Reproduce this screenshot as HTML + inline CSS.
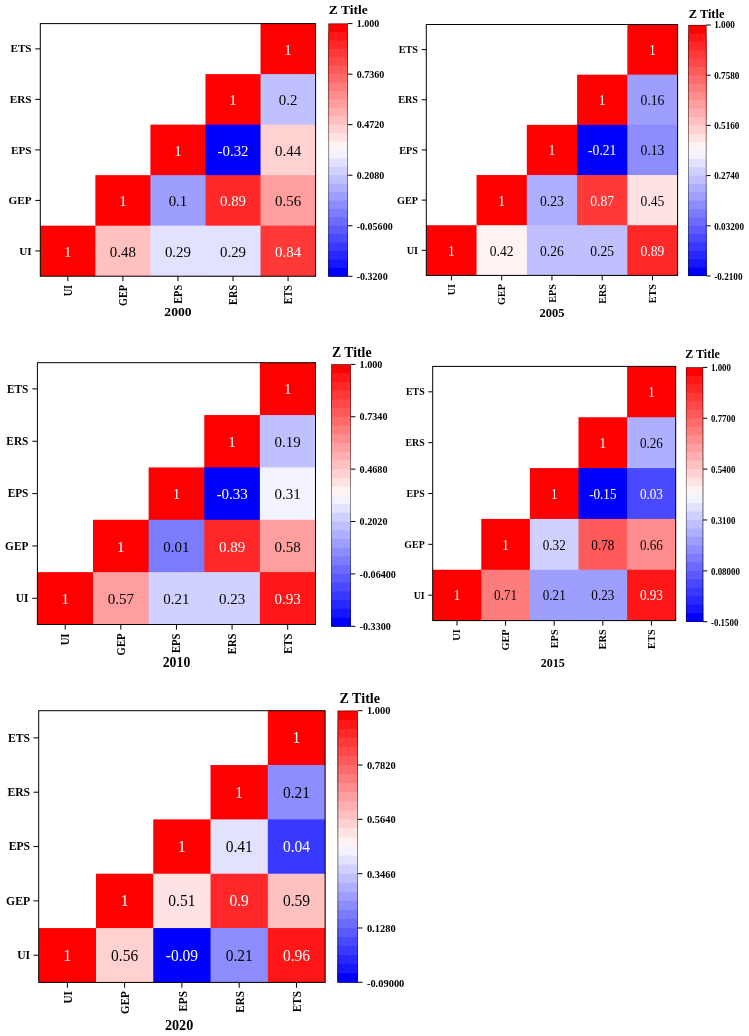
<!DOCTYPE html>
<html lang="en"><head><meta charset="utf-8"><title>Correlation heatmaps 2000-2020</title>
<style>
html,body{margin:0;padding:0;background:#fff;}
body{width:749px;height:1036px;overflow:hidden;}
svg{display:block;font-family:'Liberation Serif', 'DejaVu Serif', serif;}
</style></head><body>
<svg width="749" height="1036" viewBox="0 0 749 1036">
<rect width="749" height="1036" fill="#fff"/>
<g>
<rect x="260.54" y="23.60" width="55.06" height="252.60" fill="#ff0000"/>
<rect x="205.48" y="74.12" width="56.06" height="202.08" fill="#ff0000"/>
<rect x="260.54" y="74.12" width="55.06" height="202.08" fill="#c0c0ff"/>
<rect x="150.42" y="124.64" width="56.06" height="151.56" fill="#ff0000"/>
<rect x="205.48" y="124.64" width="56.06" height="151.56" fill="#0000ff"/>
<rect x="260.54" y="124.64" width="55.06" height="151.56" fill="#ffd1d1"/>
<rect x="95.36" y="175.16" width="56.06" height="101.04" fill="#ff0000"/>
<rect x="150.42" y="175.16" width="56.06" height="101.04" fill="#9e9eff"/>
<rect x="205.48" y="175.16" width="56.06" height="101.04" fill="#ff2727"/>
<rect x="260.54" y="175.16" width="55.06" height="101.04" fill="#ff9e9e"/>
<rect x="40.30" y="225.68" width="56.06" height="50.52" fill="#ff0000"/>
<rect x="95.36" y="225.68" width="56.06" height="50.52" fill="#ffc0c0"/>
<rect x="150.42" y="225.68" width="56.06" height="50.52" fill="#e2e2ff"/>
<rect x="205.48" y="225.68" width="56.06" height="50.52" fill="#e2e2ff"/>
<rect x="260.54" y="225.68" width="55.06" height="50.52" fill="#ff3838"/>
<text transform="translate(288.07,54.55) scale(1.0200,1.0064)" font-size="14.60" text-anchor="middle" fill="#fff">1</text>
<text transform="translate(233.01,105.07) scale(1.0200,1.0064)" font-size="14.60" text-anchor="middle" fill="#fff">1</text>
<text transform="translate(288.07,105.07) scale(1.0200,1.0064)" font-size="14.60" text-anchor="middle" fill="#000">0.2</text>
<text transform="translate(177.95,155.59) scale(1.0200,1.0064)" font-size="14.60" text-anchor="middle" fill="#fff">1</text>
<text transform="translate(233.01,155.59) scale(1.0200,1.0064)" font-size="14.60" text-anchor="middle" fill="#fff">-0.32</text>
<text transform="translate(288.07,155.59) scale(1.0200,1.0064)" font-size="14.60" text-anchor="middle" fill="#000">0.44</text>
<text transform="translate(122.89,206.11) scale(1.0200,1.0064)" font-size="14.60" text-anchor="middle" fill="#fff">1</text>
<text transform="translate(177.95,206.11) scale(1.0200,1.0064)" font-size="14.60" text-anchor="middle" fill="#000">0.1</text>
<text transform="translate(233.01,206.11) scale(1.0200,1.0064)" font-size="14.60" text-anchor="middle" fill="#fff">0.89</text>
<text transform="translate(288.07,206.11) scale(1.0200,1.0064)" font-size="14.60" text-anchor="middle" fill="#000">0.56</text>
<text transform="translate(67.83,256.63) scale(1.0200,1.0064)" font-size="14.60" text-anchor="middle" fill="#fff">1</text>
<text transform="translate(122.89,256.63) scale(1.0200,1.0064)" font-size="14.60" text-anchor="middle" fill="#000">0.48</text>
<text transform="translate(177.95,256.63) scale(1.0200,1.0064)" font-size="14.60" text-anchor="middle" fill="#000">0.29</text>
<text transform="translate(233.01,256.63) scale(1.0200,1.0064)" font-size="14.60" text-anchor="middle" fill="#000">0.29</text>
<text transform="translate(288.07,256.63) scale(1.0200,1.0064)" font-size="14.60" text-anchor="middle" fill="#fff">0.84</text>
<rect x="40.30" y="23.60" width="275.30" height="252.60" fill="none" stroke="#000" stroke-width="1.00"/>
<line x1="35.25" y1="48.86" x2="40.30" y2="48.86" stroke="#000" stroke-width="1.00"/>
<text transform="translate(31.60,52.49) scale(1.0200,1.0064)" font-size="11.00" font-weight="bold" text-anchor="end" fill="#000">ETS</text>
<line x1="35.25" y1="99.38" x2="40.30" y2="99.38" stroke="#000" stroke-width="1.00"/>
<text transform="translate(31.60,103.01) scale(1.0200,1.0064)" font-size="11.00" font-weight="bold" text-anchor="end" fill="#000">ERS</text>
<line x1="35.25" y1="149.90" x2="40.30" y2="149.90" stroke="#000" stroke-width="1.00"/>
<text transform="translate(31.60,153.53) scale(1.0200,1.0064)" font-size="11.00" font-weight="bold" text-anchor="end" fill="#000">EPS</text>
<line x1="35.25" y1="200.42" x2="40.30" y2="200.42" stroke="#000" stroke-width="1.00"/>
<text transform="translate(31.60,204.05) scale(1.0200,1.0064)" font-size="11.00" font-weight="bold" text-anchor="end" fill="#000">GEP</text>
<line x1="35.25" y1="250.94" x2="40.30" y2="250.94" stroke="#000" stroke-width="1.00"/>
<text transform="translate(31.60,254.57) scale(1.0200,1.0064)" font-size="11.00" font-weight="bold" text-anchor="end" fill="#000">UI</text>
<line x1="67.83" y1="276.20" x2="67.83" y2="281.20" stroke="#000" stroke-width="1.00"/>
<text transform="translate(71.78,284.90) scale(1.0968,1.0064) rotate(-90) scale(0.9300,1)" font-size="11.00" font-weight="bold" text-anchor="end" fill="#000">UI</text>
<line x1="122.89" y1="276.20" x2="122.89" y2="281.20" stroke="#000" stroke-width="1.00"/>
<text transform="translate(126.84,284.90) scale(1.0968,1.0064) rotate(-90) scale(0.9300,1)" font-size="11.00" font-weight="bold" text-anchor="end" fill="#000">GEP</text>
<line x1="177.95" y1="276.20" x2="177.95" y2="281.20" stroke="#000" stroke-width="1.00"/>
<text transform="translate(181.90,284.90) scale(1.0968,1.0064) rotate(-90) scale(0.9300,1)" font-size="11.00" font-weight="bold" text-anchor="end" fill="#000">EPS</text>
<line x1="233.01" y1="276.20" x2="233.01" y2="281.20" stroke="#000" stroke-width="1.00"/>
<text transform="translate(236.96,284.90) scale(1.0968,1.0064) rotate(-90) scale(0.9300,1)" font-size="11.00" font-weight="bold" text-anchor="end" fill="#000">ERS</text>
<line x1="288.07" y1="276.20" x2="288.07" y2="281.20" stroke="#000" stroke-width="1.00"/>
<text transform="translate(292.02,284.90) scale(1.0968,1.0064) rotate(-90) scale(0.9300,1)" font-size="11.00" font-weight="bold" text-anchor="end" fill="#000">ETS</text>
<text transform="translate(178.00,315.80) scale(1.0507,1.0064)" font-size="13.00" font-weight="bold" text-anchor="middle" fill="#000">2000</text>
<rect x="328.50" y="23.60" width="19.20" height="252.70" fill="#ff0000"/>
<rect x="328.50" y="32.02" width="19.20" height="244.28" fill="#ff1616"/>
<rect x="328.50" y="40.45" width="19.20" height="235.85" fill="#ff2727"/>
<rect x="328.50" y="48.87" width="19.20" height="227.43" fill="#ff3838"/>
<rect x="328.50" y="57.29" width="19.20" height="219.01" fill="#ff4949"/>
<rect x="328.50" y="65.72" width="19.20" height="210.58" fill="#ff5a5a"/>
<rect x="328.50" y="74.14" width="19.20" height="202.16" fill="#ff6b6b"/>
<rect x="328.50" y="82.56" width="19.20" height="193.74" fill="#ff7c7c"/>
<rect x="328.50" y="90.99" width="19.20" height="185.31" fill="#ff8d8d"/>
<rect x="328.50" y="99.41" width="19.20" height="176.89" fill="#ff9e9e"/>
<rect x="328.50" y="107.83" width="19.20" height="168.47" fill="#ffafaf"/>
<rect x="328.50" y="116.26" width="19.20" height="160.04" fill="#ffc0c0"/>
<rect x="328.50" y="124.68" width="19.20" height="151.62" fill="#ffd1d1"/>
<rect x="328.50" y="133.10" width="19.20" height="143.20" fill="#ffe2e2"/>
<rect x="328.50" y="141.53" width="19.20" height="134.77" fill="#fff3f3"/>
<rect x="328.50" y="149.95" width="19.20" height="126.35" fill="#f3f3ff"/>
<rect x="328.50" y="158.37" width="19.20" height="117.93" fill="#e2e2ff"/>
<rect x="328.50" y="166.80" width="19.20" height="109.50" fill="#d1d1ff"/>
<rect x="328.50" y="175.22" width="19.20" height="101.08" fill="#c0c0ff"/>
<rect x="328.50" y="183.64" width="19.20" height="92.66" fill="#afafff"/>
<rect x="328.50" y="192.07" width="19.20" height="84.23" fill="#9e9eff"/>
<rect x="328.50" y="200.49" width="19.20" height="75.81" fill="#8d8dff"/>
<rect x="328.50" y="208.91" width="19.20" height="67.39" fill="#7c7cff"/>
<rect x="328.50" y="217.34" width="19.20" height="58.96" fill="#6b6bff"/>
<rect x="328.50" y="225.76" width="19.20" height="50.54" fill="#5a5aff"/>
<rect x="328.50" y="234.18" width="19.20" height="42.12" fill="#4949ff"/>
<rect x="328.50" y="242.61" width="19.20" height="33.69" fill="#3838ff"/>
<rect x="328.50" y="251.03" width="19.20" height="25.27" fill="#2727ff"/>
<rect x="328.50" y="259.45" width="19.20" height="16.85" fill="#1616ff"/>
<rect x="328.50" y="267.88" width="19.20" height="8.42" fill="#0000ff"/>
<rect x="328.75" y="23.85" width="18.70" height="252.20" fill="none" stroke="#000" stroke-opacity="0.6" stroke-width="0.7"/>
<line x1="347.70" y1="23.60" x2="352.50" y2="23.60" stroke="#000" stroke-width="1.00"/>
<text transform="translate(356.70,27.08) scale(1.0584,1.0064)" font-size="9.50" font-weight="bold" text-anchor="start" fill="#000">1.000</text>
<line x1="347.70" y1="74.14" x2="352.50" y2="74.14" stroke="#000" stroke-width="1.00"/>
<text transform="translate(356.70,77.72) scale(1.0584,1.0064)" font-size="9.50" font-weight="bold" text-anchor="start" fill="#000">0.7360</text>
<line x1="347.70" y1="124.68" x2="352.50" y2="124.68" stroke="#000" stroke-width="1.00"/>
<text transform="translate(356.70,128.36) scale(1.0584,1.0064)" font-size="9.50" font-weight="bold" text-anchor="start" fill="#000">0.4720</text>
<line x1="347.70" y1="175.22" x2="352.50" y2="175.22" stroke="#000" stroke-width="1.00"/>
<text transform="translate(356.70,179.00) scale(1.0584,1.0064)" font-size="9.50" font-weight="bold" text-anchor="start" fill="#000">0.2080</text>
<line x1="347.70" y1="225.76" x2="352.50" y2="225.76" stroke="#000" stroke-width="1.00"/>
<text transform="translate(356.70,229.64) scale(1.0584,1.0064)" font-size="9.50" font-weight="bold" text-anchor="start" fill="#000">-0.05600</text>
<line x1="347.70" y1="276.30" x2="352.50" y2="276.30" stroke="#000" stroke-width="1.00"/>
<text transform="translate(356.70,280.28) scale(1.0584,1.0064)" font-size="9.50" font-weight="bold" text-anchor="start" fill="#000">-0.3200</text>
<text transform="translate(328.70,14.30) scale(1.0200,1.0064)" font-size="13.30" font-weight="bold" text-anchor="start" fill="#000">Z Title</text>
</g>
<g>
<rect x="627.34" y="24.50" width="50.26" height="250.90" fill="#ff0000"/>
<rect x="577.08" y="74.68" width="51.26" height="200.72" fill="#ff0000"/>
<rect x="627.34" y="74.68" width="50.26" height="200.72" fill="#9e9eff"/>
<rect x="526.82" y="124.86" width="51.26" height="150.54" fill="#ff0000"/>
<rect x="577.08" y="124.86" width="51.26" height="150.54" fill="#0000ff"/>
<rect x="627.34" y="124.86" width="50.26" height="150.54" fill="#8d8dff"/>
<rect x="476.56" y="175.04" width="51.26" height="100.36" fill="#ff0000"/>
<rect x="526.82" y="175.04" width="51.26" height="100.36" fill="#afafff"/>
<rect x="577.08" y="175.04" width="51.26" height="100.36" fill="#ff3838"/>
<rect x="627.34" y="175.04" width="50.26" height="100.36" fill="#ffe2e2"/>
<rect x="426.30" y="225.22" width="51.26" height="50.18" fill="#ff0000"/>
<rect x="476.56" y="225.22" width="51.26" height="50.18" fill="#fff3f3"/>
<rect x="526.82" y="225.22" width="51.26" height="50.18" fill="#c0c0ff"/>
<rect x="577.08" y="225.22" width="51.26" height="50.18" fill="#c0c0ff"/>
<rect x="627.34" y="225.22" width="50.26" height="50.18" fill="#ff2727"/>
<text transform="translate(652.47,55.04) scale(0.9311,0.9996)" font-size="14.60" text-anchor="middle" fill="#fff">1</text>
<text transform="translate(602.21,105.22) scale(0.9311,0.9996)" font-size="14.60" text-anchor="middle" fill="#fff">1</text>
<text transform="translate(652.47,105.22) scale(0.9311,0.9996)" font-size="14.60" text-anchor="middle" fill="#000">0.16</text>
<text transform="translate(551.95,155.40) scale(0.9311,0.9996)" font-size="14.60" text-anchor="middle" fill="#fff">1</text>
<text transform="translate(602.21,155.40) scale(0.9311,0.9996)" font-size="14.60" text-anchor="middle" fill="#fff">-0.21</text>
<text transform="translate(652.47,155.40) scale(0.9311,0.9996)" font-size="14.60" text-anchor="middle" fill="#000">0.13</text>
<text transform="translate(501.69,205.58) scale(0.9311,0.9996)" font-size="14.60" text-anchor="middle" fill="#fff">1</text>
<text transform="translate(551.95,205.58) scale(0.9311,0.9996)" font-size="14.60" text-anchor="middle" fill="#000">0.23</text>
<text transform="translate(602.21,205.58) scale(0.9311,0.9996)" font-size="14.60" text-anchor="middle" fill="#fff">0.87</text>
<text transform="translate(652.47,205.58) scale(0.9311,0.9996)" font-size="14.60" text-anchor="middle" fill="#000">0.45</text>
<text transform="translate(451.43,255.76) scale(0.9311,0.9996)" font-size="14.60" text-anchor="middle" fill="#fff">1</text>
<text transform="translate(501.69,255.76) scale(0.9311,0.9996)" font-size="14.60" text-anchor="middle" fill="#000">0.42</text>
<text transform="translate(551.95,255.76) scale(0.9311,0.9996)" font-size="14.60" text-anchor="middle" fill="#000">0.26</text>
<text transform="translate(602.21,255.76) scale(0.9311,0.9996)" font-size="14.60" text-anchor="middle" fill="#000">0.25</text>
<text transform="translate(652.47,255.76) scale(0.9311,0.9996)" font-size="14.60" text-anchor="middle" fill="#fff">0.89</text>
<rect x="426.30" y="24.50" width="251.30" height="250.90" fill="none" stroke="#000" stroke-width="1.00"/>
<line x1="421.69" y1="49.59" x2="426.30" y2="49.59" stroke="#000" stroke-width="1.00"/>
<text transform="translate(418.05,53.19) scale(0.9311,0.9996)" font-size="11.00" font-weight="bold" text-anchor="end" fill="#000">ETS</text>
<line x1="421.69" y1="99.77" x2="426.30" y2="99.77" stroke="#000" stroke-width="1.00"/>
<text transform="translate(418.05,103.37) scale(0.9311,0.9996)" font-size="11.00" font-weight="bold" text-anchor="end" fill="#000">ERS</text>
<line x1="421.69" y1="149.95" x2="426.30" y2="149.95" stroke="#000" stroke-width="1.00"/>
<text transform="translate(418.05,153.55) scale(0.9311,0.9996)" font-size="11.00" font-weight="bold" text-anchor="end" fill="#000">EPS</text>
<line x1="421.69" y1="200.13" x2="426.30" y2="200.13" stroke="#000" stroke-width="1.00"/>
<text transform="translate(418.05,203.73) scale(0.9311,0.9996)" font-size="11.00" font-weight="bold" text-anchor="end" fill="#000">GEP</text>
<line x1="421.69" y1="250.31" x2="426.30" y2="250.31" stroke="#000" stroke-width="1.00"/>
<text transform="translate(418.05,253.91) scale(0.9311,0.9996)" font-size="11.00" font-weight="bold" text-anchor="end" fill="#000">UI</text>
<line x1="451.43" y1="275.40" x2="451.43" y2="280.37" stroke="#000" stroke-width="1.00"/>
<text transform="translate(455.04,284.00) scale(1.0012,0.9996) rotate(-90) scale(0.9300,1)" font-size="11.00" font-weight="bold" text-anchor="end" fill="#000">UI</text>
<line x1="501.69" y1="275.40" x2="501.69" y2="280.37" stroke="#000" stroke-width="1.00"/>
<text transform="translate(505.30,284.00) scale(1.0012,0.9996) rotate(-90) scale(0.9300,1)" font-size="11.00" font-weight="bold" text-anchor="end" fill="#000">GEP</text>
<line x1="551.95" y1="275.40" x2="551.95" y2="280.37" stroke="#000" stroke-width="1.00"/>
<text transform="translate(555.56,284.00) scale(1.0012,0.9996) rotate(-90) scale(0.9300,1)" font-size="11.00" font-weight="bold" text-anchor="end" fill="#000">EPS</text>
<line x1="602.21" y1="275.40" x2="602.21" y2="280.37" stroke="#000" stroke-width="1.00"/>
<text transform="translate(605.82,284.00) scale(1.0012,0.9996) rotate(-90) scale(0.9300,1)" font-size="11.00" font-weight="bold" text-anchor="end" fill="#000">ERS</text>
<line x1="652.47" y1="275.40" x2="652.47" y2="280.37" stroke="#000" stroke-width="1.00"/>
<text transform="translate(656.08,284.00) scale(1.0012,0.9996) rotate(-90) scale(0.9300,1)" font-size="11.00" font-weight="bold" text-anchor="end" fill="#000">ETS</text>
<text transform="translate(552.00,316.50) scale(0.9591,0.9996)" font-size="13.00" font-weight="bold" text-anchor="middle" fill="#000">2005</text>
<rect x="688.40" y="25.00" width="18.00" height="251.00" fill="#ff0000"/>
<rect x="688.40" y="33.37" width="18.00" height="242.63" fill="#ff1616"/>
<rect x="688.40" y="41.73" width="18.00" height="234.27" fill="#ff2727"/>
<rect x="688.40" y="50.10" width="18.00" height="225.90" fill="#ff3838"/>
<rect x="688.40" y="58.47" width="18.00" height="217.53" fill="#ff4949"/>
<rect x="688.40" y="66.83" width="18.00" height="209.17" fill="#ff5a5a"/>
<rect x="688.40" y="75.20" width="18.00" height="200.80" fill="#ff6b6b"/>
<rect x="688.40" y="83.57" width="18.00" height="192.43" fill="#ff7c7c"/>
<rect x="688.40" y="91.93" width="18.00" height="184.07" fill="#ff8d8d"/>
<rect x="688.40" y="100.30" width="18.00" height="175.70" fill="#ff9e9e"/>
<rect x="688.40" y="108.67" width="18.00" height="167.33" fill="#ffafaf"/>
<rect x="688.40" y="117.03" width="18.00" height="158.97" fill="#ffc0c0"/>
<rect x="688.40" y="125.40" width="18.00" height="150.60" fill="#ffd1d1"/>
<rect x="688.40" y="133.77" width="18.00" height="142.23" fill="#ffe2e2"/>
<rect x="688.40" y="142.13" width="18.00" height="133.87" fill="#fff3f3"/>
<rect x="688.40" y="150.50" width="18.00" height="125.50" fill="#f3f3ff"/>
<rect x="688.40" y="158.87" width="18.00" height="117.13" fill="#e2e2ff"/>
<rect x="688.40" y="167.23" width="18.00" height="108.77" fill="#d1d1ff"/>
<rect x="688.40" y="175.60" width="18.00" height="100.40" fill="#c0c0ff"/>
<rect x="688.40" y="183.97" width="18.00" height="92.03" fill="#afafff"/>
<rect x="688.40" y="192.33" width="18.00" height="83.67" fill="#9e9eff"/>
<rect x="688.40" y="200.70" width="18.00" height="75.30" fill="#8d8dff"/>
<rect x="688.40" y="209.07" width="18.00" height="66.93" fill="#7c7cff"/>
<rect x="688.40" y="217.43" width="18.00" height="58.57" fill="#6b6bff"/>
<rect x="688.40" y="225.80" width="18.00" height="50.20" fill="#5a5aff"/>
<rect x="688.40" y="234.17" width="18.00" height="41.83" fill="#4949ff"/>
<rect x="688.40" y="242.53" width="18.00" height="33.47" fill="#3838ff"/>
<rect x="688.40" y="250.90" width="18.00" height="25.10" fill="#2727ff"/>
<rect x="688.40" y="259.27" width="18.00" height="16.73" fill="#1616ff"/>
<rect x="688.40" y="267.63" width="18.00" height="8.37" fill="#0000ff"/>
<rect x="688.65" y="25.25" width="17.50" height="250.50" fill="none" stroke="#000" stroke-opacity="0.6" stroke-width="0.7"/>
<line x1="706.40" y1="25.00" x2="710.70" y2="25.00" stroke="#000" stroke-width="1.00"/>
<text transform="translate(714.20,28.46) scale(0.9662,0.9996)" font-size="9.50" font-weight="bold" text-anchor="start" fill="#000">1.000</text>
<line x1="706.40" y1="75.20" x2="710.70" y2="75.20" stroke="#000" stroke-width="1.00"/>
<text transform="translate(714.20,78.76) scale(0.9662,0.9996)" font-size="9.50" font-weight="bold" text-anchor="start" fill="#000">0.7580</text>
<line x1="706.40" y1="125.40" x2="710.70" y2="125.40" stroke="#000" stroke-width="1.00"/>
<text transform="translate(714.20,129.06) scale(0.9662,0.9996)" font-size="9.50" font-weight="bold" text-anchor="start" fill="#000">0.5160</text>
<line x1="706.40" y1="175.60" x2="710.70" y2="175.60" stroke="#000" stroke-width="1.00"/>
<text transform="translate(714.20,179.36) scale(0.9662,0.9996)" font-size="9.50" font-weight="bold" text-anchor="start" fill="#000">0.2740</text>
<line x1="706.40" y1="225.80" x2="710.70" y2="225.80" stroke="#000" stroke-width="1.00"/>
<text transform="translate(714.20,229.66) scale(0.9662,0.9996)" font-size="9.50" font-weight="bold" text-anchor="start" fill="#000">0.03200</text>
<line x1="706.40" y1="276.00" x2="710.70" y2="276.00" stroke="#000" stroke-width="1.00"/>
<text transform="translate(714.20,279.96) scale(0.9662,0.9996)" font-size="9.50" font-weight="bold" text-anchor="start" fill="#000">-0.2100</text>
<text transform="translate(688.80,17.60) scale(0.9311,0.9996)" font-size="13.30" font-weight="bold" text-anchor="start" fill="#000">Z Title</text>
</g>
<g>
<rect x="259.88" y="362.70" width="55.62" height="261.80" fill="#ff0000"/>
<rect x="204.26" y="415.06" width="56.62" height="209.44" fill="#ff0000"/>
<rect x="259.88" y="415.06" width="55.62" height="209.44" fill="#c0c0ff"/>
<rect x="148.64" y="467.42" width="56.62" height="157.08" fill="#ff0000"/>
<rect x="204.26" y="467.42" width="56.62" height="157.08" fill="#0000ff"/>
<rect x="259.88" y="467.42" width="55.62" height="157.08" fill="#f3f3ff"/>
<rect x="93.02" y="519.78" width="56.62" height="104.72" fill="#ff0000"/>
<rect x="148.64" y="519.78" width="56.62" height="104.72" fill="#7c7cff"/>
<rect x="204.26" y="519.78" width="56.62" height="104.72" fill="#ff2727"/>
<rect x="259.88" y="519.78" width="55.62" height="104.72" fill="#ff9e9e"/>
<rect x="37.40" y="572.14" width="56.62" height="52.36" fill="#ff0000"/>
<rect x="93.02" y="572.14" width="56.62" height="52.36" fill="#ff9e9e"/>
<rect x="148.64" y="572.14" width="56.62" height="52.36" fill="#d1d1ff"/>
<rect x="204.26" y="572.14" width="56.62" height="52.36" fill="#d1d1ff"/>
<rect x="259.88" y="572.14" width="55.62" height="52.36" fill="#ff1616"/>
<text transform="translate(287.69,394.44) scale(1.0304,1.0430)" font-size="14.60" text-anchor="middle" fill="#fff">1</text>
<text transform="translate(232.07,446.80) scale(1.0304,1.0430)" font-size="14.60" text-anchor="middle" fill="#fff">1</text>
<text transform="translate(287.69,446.80) scale(1.0304,1.0430)" font-size="14.60" text-anchor="middle" fill="#000">0.19</text>
<text transform="translate(176.45,499.16) scale(1.0304,1.0430)" font-size="14.60" text-anchor="middle" fill="#fff">1</text>
<text transform="translate(232.07,499.16) scale(1.0304,1.0430)" font-size="14.60" text-anchor="middle" fill="#fff">-0.33</text>
<text transform="translate(287.69,499.16) scale(1.0304,1.0430)" font-size="14.60" text-anchor="middle" fill="#000">0.31</text>
<text transform="translate(120.83,551.52) scale(1.0304,1.0430)" font-size="14.60" text-anchor="middle" fill="#fff">1</text>
<text transform="translate(176.45,551.52) scale(1.0304,1.0430)" font-size="14.60" text-anchor="middle" fill="#000">0.01</text>
<text transform="translate(232.07,551.52) scale(1.0304,1.0430)" font-size="14.60" text-anchor="middle" fill="#fff">0.89</text>
<text transform="translate(287.69,551.52) scale(1.0304,1.0430)" font-size="14.60" text-anchor="middle" fill="#000">0.58</text>
<text transform="translate(65.21,603.88) scale(1.0304,1.0430)" font-size="14.60" text-anchor="middle" fill="#fff">1</text>
<text transform="translate(120.83,603.88) scale(1.0304,1.0430)" font-size="14.60" text-anchor="middle" fill="#000">0.57</text>
<text transform="translate(176.45,603.88) scale(1.0304,1.0430)" font-size="14.60" text-anchor="middle" fill="#000">0.21</text>
<text transform="translate(232.07,603.88) scale(1.0304,1.0430)" font-size="14.60" text-anchor="middle" fill="#000">0.23</text>
<text transform="translate(287.69,603.88) scale(1.0304,1.0430)" font-size="14.60" text-anchor="middle" fill="#fff">0.93</text>
<rect x="37.40" y="362.70" width="278.10" height="261.80" fill="none" stroke="#000" stroke-width="1.00"/>
<line x1="32.30" y1="388.88" x2="37.40" y2="388.88" stroke="#000" stroke-width="1.00"/>
<text transform="translate(28.40,392.64) scale(1.0304,1.0430)" font-size="11.00" font-weight="bold" text-anchor="end" fill="#000">ETS</text>
<line x1="32.30" y1="441.24" x2="37.40" y2="441.24" stroke="#000" stroke-width="1.00"/>
<text transform="translate(28.40,445.00) scale(1.0304,1.0430)" font-size="11.00" font-weight="bold" text-anchor="end" fill="#000">ERS</text>
<line x1="32.30" y1="493.60" x2="37.40" y2="493.60" stroke="#000" stroke-width="1.00"/>
<text transform="translate(28.40,497.36) scale(1.0304,1.0430)" font-size="11.00" font-weight="bold" text-anchor="end" fill="#000">EPS</text>
<line x1="32.30" y1="545.96" x2="37.40" y2="545.96" stroke="#000" stroke-width="1.00"/>
<text transform="translate(28.40,549.72) scale(1.0304,1.0430)" font-size="11.00" font-weight="bold" text-anchor="end" fill="#000">GEP</text>
<line x1="32.30" y1="598.32" x2="37.40" y2="598.32" stroke="#000" stroke-width="1.00"/>
<text transform="translate(28.40,602.08) scale(1.0304,1.0430)" font-size="11.00" font-weight="bold" text-anchor="end" fill="#000">UI</text>
<line x1="65.21" y1="624.50" x2="65.21" y2="629.68" stroke="#000" stroke-width="1.00"/>
<text transform="translate(69.20,633.50) scale(1.1080,1.0430) rotate(-90) scale(0.9300,1)" font-size="11.00" font-weight="bold" text-anchor="end" fill="#000">UI</text>
<line x1="120.83" y1="624.50" x2="120.83" y2="629.68" stroke="#000" stroke-width="1.00"/>
<text transform="translate(124.82,633.50) scale(1.1080,1.0430) rotate(-90) scale(0.9300,1)" font-size="11.00" font-weight="bold" text-anchor="end" fill="#000">GEP</text>
<line x1="176.45" y1="624.50" x2="176.45" y2="629.68" stroke="#000" stroke-width="1.00"/>
<text transform="translate(180.44,633.50) scale(1.1080,1.0430) rotate(-90) scale(0.9300,1)" font-size="11.00" font-weight="bold" text-anchor="end" fill="#000">EPS</text>
<line x1="232.07" y1="624.50" x2="232.07" y2="629.68" stroke="#000" stroke-width="1.00"/>
<text transform="translate(236.06,633.50) scale(1.1080,1.0430) rotate(-90) scale(0.9300,1)" font-size="11.00" font-weight="bold" text-anchor="end" fill="#000">ERS</text>
<line x1="287.69" y1="624.50" x2="287.69" y2="629.68" stroke="#000" stroke-width="1.00"/>
<text transform="translate(291.68,633.50) scale(1.1080,1.0430) rotate(-90) scale(0.9300,1)" font-size="11.00" font-weight="bold" text-anchor="end" fill="#000">ETS</text>
<text transform="translate(176.50,666.70) scale(1.0614,1.0430)" font-size="13.00" font-weight="bold" text-anchor="middle" fill="#000">2010</text>
<rect x="331.40" y="364.40" width="19.35" height="261.90" fill="#ff0000"/>
<rect x="331.40" y="373.13" width="19.35" height="253.17" fill="#ff1616"/>
<rect x="331.40" y="381.86" width="19.35" height="244.44" fill="#ff2727"/>
<rect x="331.40" y="390.59" width="19.35" height="235.71" fill="#ff3838"/>
<rect x="331.40" y="399.32" width="19.35" height="226.98" fill="#ff4949"/>
<rect x="331.40" y="408.05" width="19.35" height="218.25" fill="#ff5a5a"/>
<rect x="331.40" y="416.78" width="19.35" height="209.52" fill="#ff6b6b"/>
<rect x="331.40" y="425.51" width="19.35" height="200.79" fill="#ff7c7c"/>
<rect x="331.40" y="434.24" width="19.35" height="192.06" fill="#ff8d8d"/>
<rect x="331.40" y="442.97" width="19.35" height="183.33" fill="#ff9e9e"/>
<rect x="331.40" y="451.70" width="19.35" height="174.60" fill="#ffafaf"/>
<rect x="331.40" y="460.43" width="19.35" height="165.87" fill="#ffc0c0"/>
<rect x="331.40" y="469.16" width="19.35" height="157.14" fill="#ffd1d1"/>
<rect x="331.40" y="477.89" width="19.35" height="148.41" fill="#ffe2e2"/>
<rect x="331.40" y="486.62" width="19.35" height="139.68" fill="#fff3f3"/>
<rect x="331.40" y="495.35" width="19.35" height="130.95" fill="#f3f3ff"/>
<rect x="331.40" y="504.08" width="19.35" height="122.22" fill="#e2e2ff"/>
<rect x="331.40" y="512.81" width="19.35" height="113.49" fill="#d1d1ff"/>
<rect x="331.40" y="521.54" width="19.35" height="104.76" fill="#c0c0ff"/>
<rect x="331.40" y="530.27" width="19.35" height="96.03" fill="#afafff"/>
<rect x="331.40" y="539.00" width="19.35" height="87.30" fill="#9e9eff"/>
<rect x="331.40" y="547.73" width="19.35" height="78.57" fill="#8d8dff"/>
<rect x="331.40" y="556.46" width="19.35" height="69.84" fill="#7c7cff"/>
<rect x="331.40" y="565.19" width="19.35" height="61.11" fill="#6b6bff"/>
<rect x="331.40" y="573.92" width="19.35" height="52.38" fill="#5a5aff"/>
<rect x="331.40" y="582.65" width="19.35" height="43.65" fill="#4949ff"/>
<rect x="331.40" y="591.38" width="19.35" height="34.92" fill="#3838ff"/>
<rect x="331.40" y="600.11" width="19.35" height="26.19" fill="#2727ff"/>
<rect x="331.40" y="608.84" width="19.35" height="17.46" fill="#1616ff"/>
<rect x="331.40" y="617.57" width="19.35" height="8.73" fill="#0000ff"/>
<rect x="331.65" y="364.65" width="18.85" height="261.40" fill="none" stroke="#000" stroke-opacity="0.6" stroke-width="0.7"/>
<line x1="350.75" y1="364.40" x2="355.40" y2="364.40" stroke="#000" stroke-width="1.00"/>
<text transform="translate(359.60,367.99) scale(1.0692,1.0430)" font-size="9.50" font-weight="bold" text-anchor="start" fill="#000">1.000</text>
<line x1="350.75" y1="416.78" x2="355.40" y2="416.78" stroke="#000" stroke-width="1.00"/>
<text transform="translate(359.60,420.47) scale(1.0692,1.0430)" font-size="9.50" font-weight="bold" text-anchor="start" fill="#000">0.7340</text>
<line x1="350.75" y1="469.16" x2="355.40" y2="469.16" stroke="#000" stroke-width="1.00"/>
<text transform="translate(359.60,472.95) scale(1.0692,1.0430)" font-size="9.50" font-weight="bold" text-anchor="start" fill="#000">0.4680</text>
<line x1="350.75" y1="521.54" x2="355.40" y2="521.54" stroke="#000" stroke-width="1.00"/>
<text transform="translate(359.60,525.43) scale(1.0692,1.0430)" font-size="9.50" font-weight="bold" text-anchor="start" fill="#000">0.2020</text>
<line x1="350.75" y1="573.92" x2="355.40" y2="573.92" stroke="#000" stroke-width="1.00"/>
<text transform="translate(359.60,577.91) scale(1.0692,1.0430)" font-size="9.50" font-weight="bold" text-anchor="start" fill="#000">-0.06400</text>
<line x1="350.75" y1="626.30" x2="355.40" y2="626.30" stroke="#000" stroke-width="1.00"/>
<text transform="translate(359.60,630.39) scale(1.0692,1.0430)" font-size="9.50" font-weight="bold" text-anchor="start" fill="#000">-0.3300</text>
<text transform="translate(332.06,356.70) scale(1.0304,1.0430)" font-size="13.30" font-weight="bold" text-anchor="start" fill="#000">Z Title</text>
</g>
<g>
<rect x="627.10" y="366.40" width="48.60" height="254.20" fill="#ff0000"/>
<rect x="578.50" y="417.24" width="49.60" height="203.36" fill="#ff0000"/>
<rect x="627.10" y="417.24" width="48.60" height="203.36" fill="#afafff"/>
<rect x="529.90" y="468.08" width="49.60" height="152.52" fill="#ff0000"/>
<rect x="578.50" y="468.08" width="49.60" height="152.52" fill="#0000ff"/>
<rect x="627.10" y="468.08" width="48.60" height="152.52" fill="#4949ff"/>
<rect x="481.30" y="518.92" width="49.60" height="101.68" fill="#ff0000"/>
<rect x="529.90" y="518.92" width="49.60" height="101.68" fill="#d1d1ff"/>
<rect x="578.50" y="518.92" width="49.60" height="101.68" fill="#ff5a5a"/>
<rect x="627.10" y="518.92" width="48.60" height="101.68" fill="#ff8d8d"/>
<rect x="432.70" y="569.76" width="49.60" height="50.84" fill="#ff0000"/>
<rect x="481.30" y="569.76" width="49.60" height="50.84" fill="#ff7c7c"/>
<rect x="529.90" y="569.76" width="49.60" height="50.84" fill="#9e9eff"/>
<rect x="578.50" y="569.76" width="49.60" height="50.84" fill="#9e9eff"/>
<rect x="627.10" y="569.76" width="48.60" height="50.84" fill="#ff1616"/>
<text transform="translate(651.40,397.04) scale(0.9004,1.0127)" font-size="14.60" text-anchor="middle" fill="#fff">1</text>
<text transform="translate(602.80,447.88) scale(0.9004,1.0127)" font-size="14.60" text-anchor="middle" fill="#fff">1</text>
<text transform="translate(651.40,447.88) scale(0.9004,1.0127)" font-size="14.60" text-anchor="middle" fill="#000">0.26</text>
<text transform="translate(554.20,498.72) scale(0.9004,1.0127)" font-size="14.60" text-anchor="middle" fill="#fff">1</text>
<text transform="translate(602.80,498.72) scale(0.9004,1.0127)" font-size="14.60" text-anchor="middle" fill="#fff">-0.15</text>
<text transform="translate(651.40,498.72) scale(0.9004,1.0127)" font-size="14.60" text-anchor="middle" fill="#fff">0.03</text>
<text transform="translate(505.60,549.56) scale(0.9004,1.0127)" font-size="14.60" text-anchor="middle" fill="#fff">1</text>
<text transform="translate(554.20,549.56) scale(0.9004,1.0127)" font-size="14.60" text-anchor="middle" fill="#000">0.32</text>
<text transform="translate(602.80,549.56) scale(0.9004,1.0127)" font-size="14.60" text-anchor="middle" fill="#000">0.78</text>
<text transform="translate(651.40,549.56) scale(0.9004,1.0127)" font-size="14.60" text-anchor="middle" fill="#000">0.66</text>
<text transform="translate(457.00,600.40) scale(0.9004,1.0127)" font-size="14.60" text-anchor="middle" fill="#fff">1</text>
<text transform="translate(505.60,600.40) scale(0.9004,1.0127)" font-size="14.60" text-anchor="middle" fill="#000">0.71</text>
<text transform="translate(554.20,600.40) scale(0.9004,1.0127)" font-size="14.60" text-anchor="middle" fill="#000">0.21</text>
<text transform="translate(602.80,600.40) scale(0.9004,1.0127)" font-size="14.60" text-anchor="middle" fill="#000">0.23</text>
<text transform="translate(651.40,600.40) scale(0.9004,1.0127)" font-size="14.60" text-anchor="middle" fill="#fff">0.93</text>
<rect x="432.70" y="366.40" width="243.00" height="254.20" fill="none" stroke="#000" stroke-width="1.00"/>
<line x1="428.25" y1="391.82" x2="432.70" y2="391.82" stroke="#000" stroke-width="1.00"/>
<text transform="translate(424.70,395.47) scale(0.9004,1.0127)" font-size="11.00" font-weight="bold" text-anchor="end" fill="#000">ETS</text>
<line x1="428.25" y1="442.66" x2="432.70" y2="442.66" stroke="#000" stroke-width="1.00"/>
<text transform="translate(424.70,446.31) scale(0.9004,1.0127)" font-size="11.00" font-weight="bold" text-anchor="end" fill="#000">ERS</text>
<line x1="428.25" y1="493.50" x2="432.70" y2="493.50" stroke="#000" stroke-width="1.00"/>
<text transform="translate(424.70,497.15) scale(0.9004,1.0127)" font-size="11.00" font-weight="bold" text-anchor="end" fill="#000">EPS</text>
<line x1="428.25" y1="544.34" x2="432.70" y2="544.34" stroke="#000" stroke-width="1.00"/>
<text transform="translate(424.70,547.99) scale(0.9004,1.0127)" font-size="11.00" font-weight="bold" text-anchor="end" fill="#000">GEP</text>
<line x1="428.25" y1="595.18" x2="432.70" y2="595.18" stroke="#000" stroke-width="1.00"/>
<text transform="translate(424.70,598.83) scale(0.9004,1.0127)" font-size="11.00" font-weight="bold" text-anchor="end" fill="#000">UI</text>
<line x1="457.00" y1="620.60" x2="457.00" y2="625.63" stroke="#000" stroke-width="1.00"/>
<text transform="translate(460.49,629.30) scale(0.9681,1.0127) rotate(-90) scale(0.9300,1)" font-size="11.00" font-weight="bold" text-anchor="end" fill="#000">UI</text>
<line x1="505.60" y1="620.60" x2="505.60" y2="625.63" stroke="#000" stroke-width="1.00"/>
<text transform="translate(509.09,629.30) scale(0.9681,1.0127) rotate(-90) scale(0.9300,1)" font-size="11.00" font-weight="bold" text-anchor="end" fill="#000">GEP</text>
<line x1="554.20" y1="620.60" x2="554.20" y2="625.63" stroke="#000" stroke-width="1.00"/>
<text transform="translate(557.69,629.30) scale(0.9681,1.0127) rotate(-90) scale(0.9300,1)" font-size="11.00" font-weight="bold" text-anchor="end" fill="#000">EPS</text>
<line x1="602.80" y1="620.60" x2="602.80" y2="625.63" stroke="#000" stroke-width="1.00"/>
<text transform="translate(606.29,629.30) scale(0.9681,1.0127) rotate(-90) scale(0.9300,1)" font-size="11.00" font-weight="bold" text-anchor="end" fill="#000">ERS</text>
<line x1="651.40" y1="620.60" x2="651.40" y2="625.63" stroke="#000" stroke-width="1.00"/>
<text transform="translate(654.89,629.30) scale(0.9681,1.0127) rotate(-90) scale(0.9300,1)" font-size="11.00" font-weight="bold" text-anchor="end" fill="#000">ETS</text>
<text transform="translate(552.80,667.00) scale(0.9275,1.0127)" font-size="13.00" font-weight="bold" text-anchor="middle" fill="#000">2015</text>
<rect x="686.00" y="367.40" width="17.07" height="254.30" fill="#ff0000"/>
<rect x="686.00" y="375.88" width="17.07" height="245.82" fill="#ff1616"/>
<rect x="686.00" y="384.35" width="17.07" height="237.35" fill="#ff2727"/>
<rect x="686.00" y="392.83" width="17.07" height="228.87" fill="#ff3838"/>
<rect x="686.00" y="401.31" width="17.07" height="220.39" fill="#ff4949"/>
<rect x="686.00" y="409.78" width="17.07" height="211.92" fill="#ff5a5a"/>
<rect x="686.00" y="418.26" width="17.07" height="203.44" fill="#ff6b6b"/>
<rect x="686.00" y="426.74" width="17.07" height="194.96" fill="#ff7c7c"/>
<rect x="686.00" y="435.21" width="17.07" height="186.49" fill="#ff8d8d"/>
<rect x="686.00" y="443.69" width="17.07" height="178.01" fill="#ff9e9e"/>
<rect x="686.00" y="452.17" width="17.07" height="169.53" fill="#ffafaf"/>
<rect x="686.00" y="460.64" width="17.07" height="161.06" fill="#ffc0c0"/>
<rect x="686.00" y="469.12" width="17.07" height="152.58" fill="#ffd1d1"/>
<rect x="686.00" y="477.60" width="17.07" height="144.10" fill="#ffe2e2"/>
<rect x="686.00" y="486.07" width="17.07" height="135.63" fill="#fff3f3"/>
<rect x="686.00" y="494.55" width="17.07" height="127.15" fill="#f3f3ff"/>
<rect x="686.00" y="503.03" width="17.07" height="118.67" fill="#e2e2ff"/>
<rect x="686.00" y="511.50" width="17.07" height="110.20" fill="#d1d1ff"/>
<rect x="686.00" y="519.98" width="17.07" height="101.72" fill="#c0c0ff"/>
<rect x="686.00" y="528.46" width="17.07" height="93.24" fill="#afafff"/>
<rect x="686.00" y="536.93" width="17.07" height="84.77" fill="#9e9eff"/>
<rect x="686.00" y="545.41" width="17.07" height="76.29" fill="#8d8dff"/>
<rect x="686.00" y="553.89" width="17.07" height="67.81" fill="#7c7cff"/>
<rect x="686.00" y="562.36" width="17.07" height="59.34" fill="#6b6bff"/>
<rect x="686.00" y="570.84" width="17.07" height="50.86" fill="#5a5aff"/>
<rect x="686.00" y="579.32" width="17.07" height="42.38" fill="#4949ff"/>
<rect x="686.00" y="587.79" width="17.07" height="33.91" fill="#3838ff"/>
<rect x="686.00" y="596.27" width="17.07" height="25.43" fill="#2727ff"/>
<rect x="686.00" y="604.75" width="17.07" height="16.95" fill="#1616ff"/>
<rect x="686.00" y="613.22" width="17.07" height="8.48" fill="#0000ff"/>
<rect x="686.25" y="367.65" width="16.57" height="253.80" fill="none" stroke="#000" stroke-opacity="0.6" stroke-width="0.7"/>
<line x1="703.07" y1="367.40" x2="707.30" y2="367.40" stroke="#000" stroke-width="1.00"/>
<text transform="translate(711.00,370.90) scale(0.9342,1.0127)" font-size="9.50" font-weight="bold" text-anchor="start" fill="#000">1.000</text>
<line x1="703.07" y1="418.26" x2="707.30" y2="418.26" stroke="#000" stroke-width="1.00"/>
<text transform="translate(711.00,421.86) scale(0.9342,1.0127)" font-size="9.50" font-weight="bold" text-anchor="start" fill="#000">0.7700</text>
<line x1="703.07" y1="469.12" x2="707.30" y2="469.12" stroke="#000" stroke-width="1.00"/>
<text transform="translate(711.00,472.82) scale(0.9342,1.0127)" font-size="9.50" font-weight="bold" text-anchor="start" fill="#000">0.5400</text>
<line x1="703.07" y1="519.98" x2="707.30" y2="519.98" stroke="#000" stroke-width="1.00"/>
<text transform="translate(711.00,523.78) scale(0.9342,1.0127)" font-size="9.50" font-weight="bold" text-anchor="start" fill="#000">0.3100</text>
<line x1="703.07" y1="570.84" x2="707.30" y2="570.84" stroke="#000" stroke-width="1.00"/>
<text transform="translate(711.00,574.74) scale(0.9342,1.0127)" font-size="9.50" font-weight="bold" text-anchor="start" fill="#000">0.08000</text>
<line x1="703.07" y1="621.70" x2="707.30" y2="621.70" stroke="#000" stroke-width="1.00"/>
<text transform="translate(711.00,625.70) scale(0.9342,1.0127)" font-size="9.50" font-weight="bold" text-anchor="start" fill="#000">-0.1500</text>
<text transform="translate(685.30,357.76) scale(0.9004,1.0127)" font-size="13.30" font-weight="bold" text-anchor="start" fill="#000">Z Title</text>
</g>
<g>
<rect x="267.82" y="710.70" width="57.28" height="271.70" fill="#ff0000"/>
<rect x="210.54" y="765.04" width="58.28" height="217.36" fill="#ff0000"/>
<rect x="267.82" y="765.04" width="57.28" height="217.36" fill="#8d8dff"/>
<rect x="153.26" y="819.38" width="58.28" height="163.02" fill="#ff0000"/>
<rect x="210.54" y="819.38" width="58.28" height="163.02" fill="#e2e2ff"/>
<rect x="267.82" y="819.38" width="57.28" height="163.02" fill="#3838ff"/>
<rect x="95.98" y="873.72" width="58.28" height="108.68" fill="#ff0000"/>
<rect x="153.26" y="873.72" width="58.28" height="108.68" fill="#ffe2e2"/>
<rect x="210.54" y="873.72" width="58.28" height="108.68" fill="#ff2727"/>
<rect x="267.82" y="873.72" width="57.28" height="108.68" fill="#ffc0c0"/>
<rect x="38.70" y="928.06" width="58.28" height="54.34" fill="#ff0000"/>
<rect x="95.98" y="928.06" width="58.28" height="54.34" fill="#ffd1d1"/>
<rect x="153.26" y="928.06" width="58.28" height="54.34" fill="#0000ff"/>
<rect x="210.54" y="928.06" width="58.28" height="54.34" fill="#8d8dff"/>
<rect x="267.82" y="928.06" width="57.28" height="54.34" fill="#ff1616"/>
<text transform="translate(296.46,743.32) scale(1.0612,1.0825)" font-size="14.60" text-anchor="middle" fill="#fff">1</text>
<text transform="translate(239.18,797.66) scale(1.0612,1.0825)" font-size="14.60" text-anchor="middle" fill="#fff">1</text>
<text transform="translate(296.46,797.66) scale(1.0612,1.0825)" font-size="14.60" text-anchor="middle" fill="#000">0.21</text>
<text transform="translate(181.90,852.00) scale(1.0612,1.0825)" font-size="14.60" text-anchor="middle" fill="#fff">1</text>
<text transform="translate(239.18,852.00) scale(1.0612,1.0825)" font-size="14.60" text-anchor="middle" fill="#000">0.41</text>
<text transform="translate(296.46,852.00) scale(1.0612,1.0825)" font-size="14.60" text-anchor="middle" fill="#fff">0.04</text>
<text transform="translate(124.62,906.34) scale(1.0612,1.0825)" font-size="14.60" text-anchor="middle" fill="#fff">1</text>
<text transform="translate(181.90,906.34) scale(1.0612,1.0825)" font-size="14.60" text-anchor="middle" fill="#000">0.51</text>
<text transform="translate(239.18,906.34) scale(1.0612,1.0825)" font-size="14.60" text-anchor="middle" fill="#fff">0.9</text>
<text transform="translate(296.46,906.34) scale(1.0612,1.0825)" font-size="14.60" text-anchor="middle" fill="#000">0.59</text>
<text transform="translate(67.34,960.68) scale(1.0612,1.0825)" font-size="14.60" text-anchor="middle" fill="#fff">1</text>
<text transform="translate(124.62,960.68) scale(1.0612,1.0825)" font-size="14.60" text-anchor="middle" fill="#000">0.56</text>
<text transform="translate(181.90,960.68) scale(1.0612,1.0825)" font-size="14.60" text-anchor="middle" fill="#fff">-0.09</text>
<text transform="translate(239.18,960.68) scale(1.0612,1.0825)" font-size="14.60" text-anchor="middle" fill="#000">0.21</text>
<text transform="translate(296.46,960.68) scale(1.0612,1.0825)" font-size="14.60" text-anchor="middle" fill="#fff">0.96</text>
<rect x="38.70" y="710.70" width="286.40" height="271.70" fill="none" stroke="#000" stroke-width="1.00"/>
<line x1="33.45" y1="737.87" x2="38.70" y2="737.87" stroke="#000" stroke-width="1.00"/>
<text transform="translate(30.10,741.77) scale(1.0612,1.0825)" font-size="11.00" font-weight="bold" text-anchor="end" fill="#000">ETS</text>
<line x1="33.45" y1="792.21" x2="38.70" y2="792.21" stroke="#000" stroke-width="1.00"/>
<text transform="translate(30.10,796.11) scale(1.0612,1.0825)" font-size="11.00" font-weight="bold" text-anchor="end" fill="#000">ERS</text>
<line x1="33.45" y1="846.55" x2="38.70" y2="846.55" stroke="#000" stroke-width="1.00"/>
<text transform="translate(30.10,850.45) scale(1.0612,1.0825)" font-size="11.00" font-weight="bold" text-anchor="end" fill="#000">EPS</text>
<line x1="33.45" y1="900.89" x2="38.70" y2="900.89" stroke="#000" stroke-width="1.00"/>
<text transform="translate(30.10,904.79) scale(1.0612,1.0825)" font-size="11.00" font-weight="bold" text-anchor="end" fill="#000">GEP</text>
<line x1="33.45" y1="955.23" x2="38.70" y2="955.23" stroke="#000" stroke-width="1.00"/>
<text transform="translate(30.10,959.13) scale(1.0612,1.0825)" font-size="11.00" font-weight="bold" text-anchor="end" fill="#000">UI</text>
<line x1="67.34" y1="982.40" x2="67.34" y2="987.78" stroke="#000" stroke-width="1.00"/>
<text transform="translate(72.15,991.20) scale(1.1410,1.0825) rotate(-90) scale(0.9300,1)" font-size="11.00" font-weight="bold" text-anchor="end" fill="#000">UI</text>
<line x1="124.62" y1="982.40" x2="124.62" y2="987.78" stroke="#000" stroke-width="1.00"/>
<text transform="translate(129.43,991.20) scale(1.1410,1.0825) rotate(-90) scale(0.9300,1)" font-size="11.00" font-weight="bold" text-anchor="end" fill="#000">GEP</text>
<line x1="181.90" y1="982.40" x2="181.90" y2="987.78" stroke="#000" stroke-width="1.00"/>
<text transform="translate(186.71,991.20) scale(1.1410,1.0825) rotate(-90) scale(0.9300,1)" font-size="11.00" font-weight="bold" text-anchor="end" fill="#000">EPS</text>
<line x1="239.18" y1="982.40" x2="239.18" y2="987.78" stroke="#000" stroke-width="1.00"/>
<text transform="translate(243.99,991.20) scale(1.1410,1.0825) rotate(-90) scale(0.9300,1)" font-size="11.00" font-weight="bold" text-anchor="end" fill="#000">ERS</text>
<line x1="296.46" y1="982.40" x2="296.46" y2="987.78" stroke="#000" stroke-width="1.00"/>
<text transform="translate(301.27,991.20) scale(1.1410,1.0825) rotate(-90) scale(0.9300,1)" font-size="11.00" font-weight="bold" text-anchor="end" fill="#000">ETS</text>
<text transform="translate(179.10,1030.00) scale(1.0931,1.0825)" font-size="13.00" font-weight="bold" text-anchor="middle" fill="#000">2020</text>
<rect x="337.70" y="710.70" width="20.00" height="271.60" fill="#ff0000"/>
<rect x="337.70" y="719.75" width="20.00" height="262.55" fill="#ff1616"/>
<rect x="337.70" y="728.81" width="20.00" height="253.49" fill="#ff2727"/>
<rect x="337.70" y="737.86" width="20.00" height="244.44" fill="#ff3838"/>
<rect x="337.70" y="746.91" width="20.00" height="235.39" fill="#ff4949"/>
<rect x="337.70" y="755.97" width="20.00" height="226.33" fill="#ff5a5a"/>
<rect x="337.70" y="765.02" width="20.00" height="217.28" fill="#ff6b6b"/>
<rect x="337.70" y="774.07" width="20.00" height="208.23" fill="#ff7c7c"/>
<rect x="337.70" y="783.13" width="20.00" height="199.17" fill="#ff8d8d"/>
<rect x="337.70" y="792.18" width="20.00" height="190.12" fill="#ff9e9e"/>
<rect x="337.70" y="801.23" width="20.00" height="181.07" fill="#ffafaf"/>
<rect x="337.70" y="810.29" width="20.00" height="172.01" fill="#ffc0c0"/>
<rect x="337.70" y="819.34" width="20.00" height="162.96" fill="#ffd1d1"/>
<rect x="337.70" y="828.39" width="20.00" height="153.91" fill="#ffe2e2"/>
<rect x="337.70" y="837.45" width="20.00" height="144.85" fill="#fff3f3"/>
<rect x="337.70" y="846.50" width="20.00" height="135.80" fill="#f3f3ff"/>
<rect x="337.70" y="855.55" width="20.00" height="126.75" fill="#e2e2ff"/>
<rect x="337.70" y="864.61" width="20.00" height="117.69" fill="#d1d1ff"/>
<rect x="337.70" y="873.66" width="20.00" height="108.64" fill="#c0c0ff"/>
<rect x="337.70" y="882.71" width="20.00" height="99.59" fill="#afafff"/>
<rect x="337.70" y="891.77" width="20.00" height="90.53" fill="#9e9eff"/>
<rect x="337.70" y="900.82" width="20.00" height="81.48" fill="#8d8dff"/>
<rect x="337.70" y="909.87" width="20.00" height="72.43" fill="#7c7cff"/>
<rect x="337.70" y="918.93" width="20.00" height="63.37" fill="#6b6bff"/>
<rect x="337.70" y="927.98" width="20.00" height="54.32" fill="#5a5aff"/>
<rect x="337.70" y="937.03" width="20.00" height="45.27" fill="#4949ff"/>
<rect x="337.70" y="946.09" width="20.00" height="36.21" fill="#3838ff"/>
<rect x="337.70" y="955.14" width="20.00" height="27.16" fill="#2727ff"/>
<rect x="337.70" y="964.19" width="20.00" height="18.11" fill="#1616ff"/>
<rect x="337.70" y="973.25" width="20.00" height="9.05" fill="#0000ff"/>
<rect x="337.95" y="710.95" width="19.50" height="271.10" fill="none" stroke="#000" stroke-opacity="0.6" stroke-width="0.7"/>
<line x1="357.70" y1="710.70" x2="362.50" y2="710.70" stroke="#000" stroke-width="1.00"/>
<text transform="translate(366.90,714.42) scale(1.1011,1.0825)" font-size="9.50" font-weight="bold" text-anchor="start" fill="#000">1.000</text>
<line x1="357.70" y1="765.02" x2="362.50" y2="765.02" stroke="#000" stroke-width="1.00"/>
<text transform="translate(366.90,768.84) scale(1.1011,1.0825)" font-size="9.50" font-weight="bold" text-anchor="start" fill="#000">0.7820</text>
<line x1="357.70" y1="819.34" x2="362.50" y2="819.34" stroke="#000" stroke-width="1.00"/>
<text transform="translate(366.90,823.26) scale(1.1011,1.0825)" font-size="9.50" font-weight="bold" text-anchor="start" fill="#000">0.5640</text>
<line x1="357.70" y1="873.66" x2="362.50" y2="873.66" stroke="#000" stroke-width="1.00"/>
<text transform="translate(366.90,877.68) scale(1.1011,1.0825)" font-size="9.50" font-weight="bold" text-anchor="start" fill="#000">0.3460</text>
<line x1="357.70" y1="927.98" x2="362.50" y2="927.98" stroke="#000" stroke-width="1.00"/>
<text transform="translate(366.90,932.10) scale(1.1011,1.0825)" font-size="9.50" font-weight="bold" text-anchor="start" fill="#000">0.1280</text>
<line x1="357.70" y1="982.30" x2="362.50" y2="982.30" stroke="#000" stroke-width="1.00"/>
<text transform="translate(366.90,986.52) scale(1.1011,1.0825)" font-size="9.50" font-weight="bold" text-anchor="start" fill="#000">-0.09000</text>
<text transform="translate(339.40,702.70) scale(1.0612,1.0825)" font-size="13.30" font-weight="bold" text-anchor="start" fill="#000">Z Title</text>
</g>
</svg>
</body></html>
